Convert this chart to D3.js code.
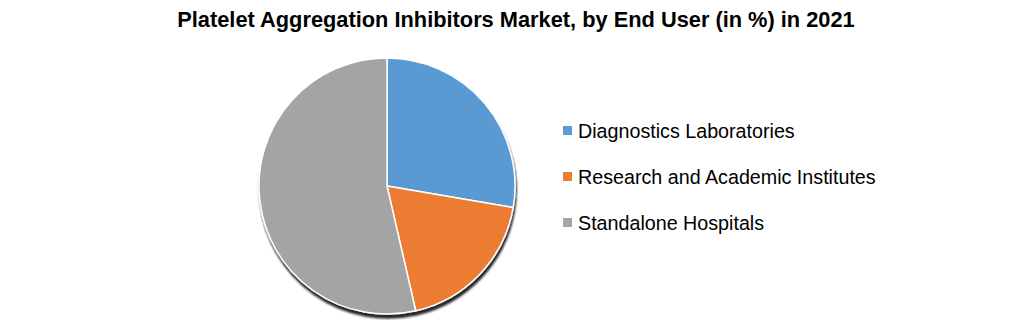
<!DOCTYPE html>
<html lang="en">
<head>
  <meta charset="UTF-8">
  <title>Platelet Aggregation Inhibitors Market</title>
  <style>
    body { margin: 0; background: #fff; }
    .title { font: bold 21.8px "Liberation Sans", sans-serif; fill: #000; }
    .legend text { font: 19.7px "Liberation Sans", sans-serif; fill: #000; }
  </style>
  <script src="https://d3js.org/d3.v7.min.js"></script>
</head>
<body>
  <div id="chart"></div>
  <script>
    var categories = ['Diagnostics Laboratories', 'Research and Academic Institutes', 'Standalone Hospitals'];
    var values = [27.7, 18.7, 53.6];
    var colors = ['#5B9BD5', '#ED7D31', '#A5A5A5'];

    var width = 1011, height = 320;
    var cx = 387, cy = 186, radius = 128;

    var svg = d3.select('#chart').append('svg')
      .attr('width', width)
      .attr('height', height);

    var defs = svg.append('defs');
    var shadow = defs.append('filter').attr('id', 'shadow')
      .attr('x', '-10%').attr('y', '-10%').attr('width', '120%').attr('height', '125%');
    shadow.append('feGaussianBlur').attr('in', 'SourceAlpha').attr('stdDeviation', 1.2);
    shadow.append('feOffset').attr('dx', 1).attr('dy', 4).attr('result', 'off');
    shadow.append('feComponentTransfer').append('feFuncA').attr('type', 'linear').attr('slope', 0.85);
    var merge = shadow.append('feMerge');
    merge.append('feMergeNode');
    merge.append('feMergeNode').attr('in', 'SourceGraphic');

    // subtle Excel-style shading on each slice
    colors.forEach(function(c, i) {
      var g = defs.append('linearGradient').attr('id', 'grad' + i)
        .attr('gradientUnits', 'userSpaceOnUse')
        .attr('x1', cx - radius).attr('y1', cy - radius)
        .attr('x2', cx + radius).attr('y2', cy + radius);
      g.append('stop').attr('offset', '0%').attr('stop-color', d3.color(c).darker(0.02));
      g.append('stop').attr('offset', '100%').attr('stop-color', d3.color(c).darker(0.2));
    });

    svg.append('text')
      .attr('class', 'title')
      .attr('x', 516)
      .attr('y', 27)
      .attr('text-anchor', 'middle')
      .text('Platelet Aggregation Inhibitors Market, by End User (in %) in 2021');

    var pie = d3.pie().sort(null).value(function(d) { return d; });
    var arc = d3.arc().innerRadius(0).outerRadius(radius);

    var pieG = svg.append('g')
      .attr('transform', 'translate(' + cx + ',' + cy + ')')
      .attr('filter', 'url(#shadow)');

    pieG.selectAll('path')
      .data(pie(values))
      .enter().append('path')
      .attr('d', arc)
      .attr('fill', function(d, i) { return 'url(#grad' + i + ')'; })
      .attr('stroke', '#fff')
      .attr('stroke-width', 1.5);

    var legend = svg.append('g').attr('class', 'legend')
      .attr('transform', 'translate(563,131)');

    var item = legend.selectAll('g')
      .data(categories)
      .enter().append('g')
      .attr('transform', function(d, i) { return 'translate(0,' + (i * 46) + ')'; });

    item.append('rect')
      .attr('x', 0).attr('y', -5)
      .attr('width', 9).attr('height', 9)
      .attr('fill', function(d, i) { return colors[i]; });

    item.append('text')
      .attr('x', 15)
      .attr('y', 0)
      .attr('dy', '0.35em')
      .text(function(d) { return d; });
  </script>
</body>
</html>
